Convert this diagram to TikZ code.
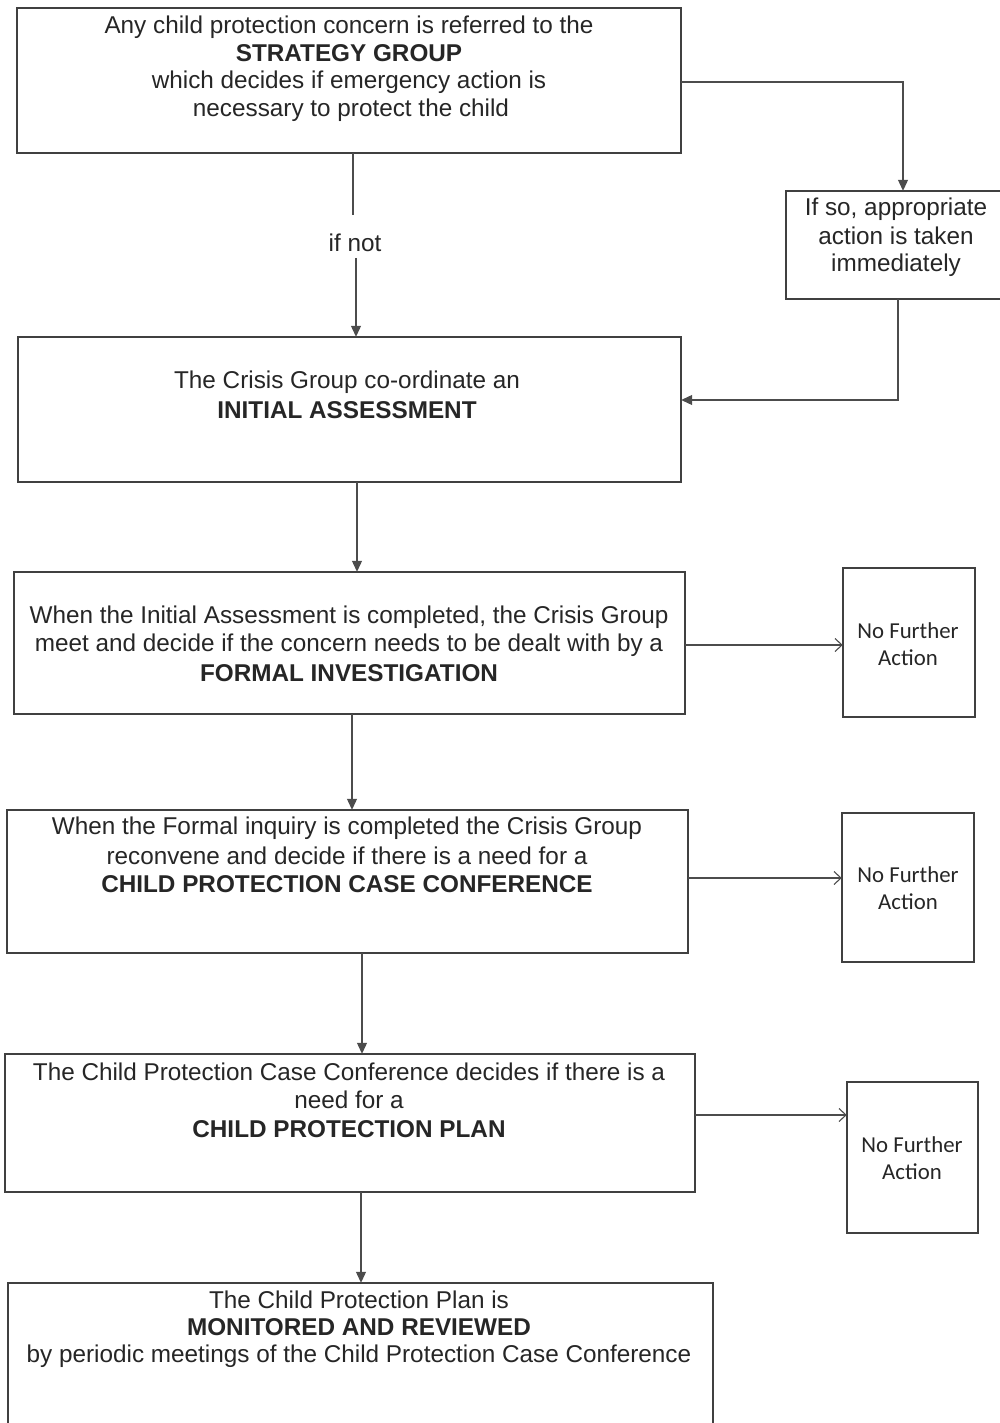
\documentclass[tikz,border=0pt]{standalone}
\usepackage{fontspec}
\setmainfont{Liberation Sans}
\newfontfamily\calib{Carlito}
\usetikzlibrary{arrows.meta}
\begin{document}
\begin{tikzpicture}[x=1pt,y=-1pt,
  box/.style={draw=black!75, line width=1.2pt, fill=white},
  conn/.style={draw=black!70, line width=1.1pt},
  filledtip/.style={-{Triangle[length=11pt,width=10pt]}},
  opentip/.style={-{Straight Barb[length=7pt,width=13pt,line width=1.1pt]}},
  txt/.style={font=\fontsize{24.3}{28}\selectfont, align=center, text=black!85, inner sep=0pt},
  nfa/.style={font=\calib\fontsize{22.8}{27}\selectfont, align=center, text=black!85, inner sep=0pt}]
\useasboundingbox (0,0) rectangle (1000,1423);
% boxes
\draw[box] (17,8) rectangle (681,153);
\draw[box] (786,191) rectangle (1010,299);
\draw[box] (18,337) rectangle (681,482);
\draw[box] (14,572) rectangle (685,714);
\draw[box] (843,568) rectangle (975,717);
\draw[box] (7,810) rectangle (688,953);
\draw[box] (842,813) rectangle (974,962);
\draw[box] (5,1054) rectangle (695,1192);
\draw[box] (847,1082) rectangle (978,1233);
\draw[box] (8,1283) rectangle (713,1440);
% named anchor nodes for boxes
\node[inner sep=0pt, minimum width=664pt, minimum height=145pt] (strat) at (349,80.5) {};
\node[inner sep=0pt, minimum width=224pt, minimum height=108pt] (ifso) at (898,245) {};
\node[inner sep=0pt, minimum width=663pt, minimum height=145pt] (init) at (349.5,409.5) {};
\node[inner sep=0pt, minimum width=671pt, minimum height=142pt] (formal) at (349.5,643) {};
\node[inner sep=0pt, minimum width=132pt, minimum height=149pt] (nfa1) at (909,642.5) {};
\node[inner sep=0pt, minimum width=681pt, minimum height=143pt] (conf) at (347.5,881.5) {};
\node[inner sep=0pt, minimum width=132pt, minimum height=149pt] (nfa2) at (908,887.5) {};
\node[inner sep=0pt, minimum width=690pt, minimum height=138pt] (plan) at (350,1123) {};
\node[inner sep=0pt, minimum width=131pt, minimum height=151pt] (nfa3) at (912.5,1157.5) {};
\node[inner sep=0pt, minimum width=705pt, minimum height=157pt] (mon) at (360.5,1361.5) {};
% texts
\node[txt] (t1a) at (349,27) {Any child protection concern is referred to the};
\node[txt] (t1b) at (349,53) {\bfseries STRATEGY GROUP};
\node[txt] (t1c) at (349,82) {which decides if emergency action is};
\node[txt] (t1d) at (351,110) {necessary to protect the child};
\node[txt] (t2a) at (896,209) {If so, appropriate};
\node[txt] (t2b) at (896,236) {action is taken};
\node[txt] (t2c) at (896,265) {immediately};
\node[txt] (t3a) at (347,382) {The Crisis Group co-ordinate an};
\node[txt] (t3b) at (347,410) {\bfseries INITIAL ASSESSMENT};
\node[txt] (t4a) at (349,617) {When the Initial Assessment is completed, the Crisis Group};
\node[txt] (t4b) at (349,645) {meet and decide if the concern needs to be dealt with by a};
\node[txt] (t4c) at (349,673) {\bfseries FORMAL INVESTIGATION};
\node[nfa] (n1) at (908,644) {No Further\\Action};
\node[txt] (t5a) at (347,828) {When the Formal inquiry is completed the Crisis Group};
\node[txt] (t5b) at (347,856) {reconvene and decide if there is a need for a};
\node[txt] (t5c) at (347,884) {\bfseries CHILD PROTECTION CASE CONFERENCE};
\node[nfa] (n2) at (908,888) {No Further\\Action};
\node[txt] (t6a) at (349,1072) {The Child Protection Case Conference decides if there is a};
\node[txt] (t6b) at (349,1100) {need for a};
\node[txt] (t6c) at (349,1129) {\bfseries CHILD PROTECTION PLAN};
\node[nfa] (n3) at (912,1158) {No Further\\Action};
\node[txt] (t7a) at (359,1300) {The Child Protection Plan is};
\node[txt] (t7b) at (359,1327) {\bfseries MONITORED AND REVIEWED};
\node[txt] (t7c) at (359,1356) {by periodic meetings of the Child Protection Case Conference};
% connectors
\node[txt, fill=white, inner sep=3pt] (ifnot) at (355,243) {if not};
\draw[conn] (strat.south -| 353,0) -- (353,215);
\draw[conn, filledtip] (356,258) -- (init.north -| 356,0);
\draw[conn, filledtip] (strat.east |- 0,82) -| (ifso.north -| 903,0);
\draw[conn, filledtip] (ifso.south -| 898,0) |- (init.east |- 0,400);
\draw[conn, filledtip] (init.south -| 357,0) -- (formal.north -| 357,0);
\draw[conn, opentip] (formal.east |- 0,645) -- (nfa1.west |- 0,645);
\draw[conn, filledtip] (formal.south -| 352,0) -- (conf.north -| 352,0);
\draw[conn, opentip] (conf.east |- 0,878) -- (nfa2.west |- 0,878);
\draw[conn, filledtip] (conf.south -| 362,0) -- (plan.north -| 362,0);
\draw[conn, opentip] (plan.east |- 0,1115) -- (nfa3.west |- 0,1115);
\draw[conn, filledtip] (plan.south -| 361,0) -- (mon.north -| 361,0);
\end{tikzpicture}
\end{document}
